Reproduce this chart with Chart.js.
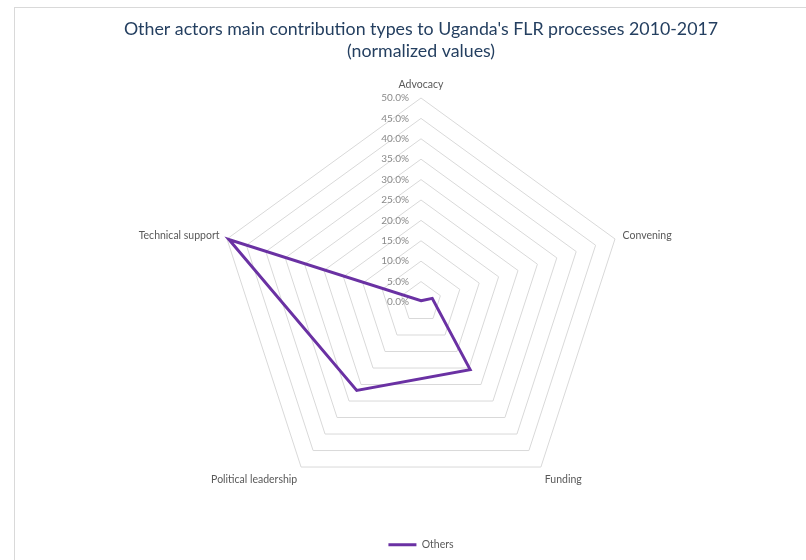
<!DOCTYPE html>
<html>
<head>
<meta charset="utf-8">
<script src="https://cdn.jsdelivr.net/npm/chart.js@4.4.1/dist/chart.umd.min.js"></script>
<style>
  html, body { margin: 0; padding: 0; background: #fff; }
  #wrap { position: relative; width: 806px; height: 560px; }
  #frame { position: absolute; left: 14px; top: 7px; right: 0; bottom: 0; border: 1px solid #d9d9d9; border-right: none; border-bottom: none; pointer-events: none; }
</style>
</head>
<body>
<div id="wrap">
  <canvas id="myChart" width="806" height="560"></canvas>
  <div id="frame"></div>
</div>
<script>
const categories = ["Advocacy", "Convening", "Funding", "Political leadership", "Technical support"];
const othersValues = [0.3, 2.9, 20.5, 26.8, 49.5];
const tickMin = 0;
const tickMax = 50;
const tickStep = 5;

const labelFont = "Lato, 'Open Sans', sans-serif";

// the plot box is kept narrow, so let the title use the full width again
const wideTitle = {
    id: "wideTitle",
    afterLayout(chart) {
        const t = chart.titleBlock;
        const c = chart.scales.r.xCenter;
        t.left = c - 400;
        t.right = c + 400;
        t.width = 800;
    }
};

// axis labels and % ticks drawn beside the spokes, the way the spreadsheet lays them out
const sideLabels = {
    id: "sideLabels",
    afterDraw(chart) {
        const scale = chart.scales.r;
        const ctx = chart.ctx;
        ctx.save();
        ctx.font = "10px " + labelFont;
        ctx.fillStyle = "#8a8a8a";
        ctx.textAlign = "right";
        ctx.textBaseline = "middle";
        scale.ticks.forEach(function(t) {
            const d = scale.getDistanceFromCenterForValue(t.value);
            ctx.fillText(t.value.toFixed(1) + "%", scale.xCenter - 12, scale.yCenter - d);
        });

        ctx.font = "10.5px " + labelFont;
        ctx.fillStyle = "#595959";
        categories.forEach(function(name, i) {
            const p = scale.getPointPosition(i, scale.drawingArea + 10);
            const dx = p.x - scale.xCenter;
            if (Math.abs(dx) < 2) {
                ctx.textAlign = "center";
                ctx.textBaseline = "bottom";
                ctx.fillText(name, p.x, p.y + 2);
            } else if (dx > 0) {
                ctx.textAlign = "left";
                ctx.textBaseline = "middle";
                ctx.fillText(name, p.x - 2, p.y + (p.y > scale.yCenter ? 4 : 0));
            } else {
                ctx.textAlign = "right";
                ctx.textBaseline = "middle";
                ctx.fillText(name, p.x + 2, p.y + (p.y > scale.yCenter ? 4 : 0));
            }
        });
        ctx.restore();
    }
};

const ctx = document.getElementById("myChart");
const myChart = new Chart(ctx, {
    type: "radar",
    data: {
        labels: categories,
        datasets: [{
            label: "Others",
            data: othersValues,
            fill: false,
            borderColor: "#6a31a3",
            backgroundColor: "#6a31a3",
            borderWidth: 3,
            pointRadius: 0,
            pointHoverRadius: 0,
            tension: 0
        }]
    },
    options: {
        responsive: false,
        animation: false,
        layout: {
            // narrow plot box keeps the web 204px in radius, centred on x=421
            padding: {left: 217, right: 181, top: 0, bottom: 0}
        },
        plugins: {
            title: {
                display: true,
                text: ["Other actors main contribution types to Uganda's FLR processes 2010-2017", "(normalized values)"],
                color: "#243f60",
                font: {family: labelFont, size: 17.8, weight: "normal"},
                padding: {top: 19, bottom: 13}
            },
            legend: {
                display: true,
                position: "bottom",
                labels: {
                    usePointStyle: true,
                    pointStyle: "line",
                    pointStyleWidth: 28,
                    color: "#595959",
                    font: {family: labelFont, size: 10.5}
                }
            },
            tooltip: {enabled: false}
        },
        scales: {
            r: {
                min: tickMin,
                max: tickMax,
                ticks: {stepSize: tickStep, display: false},
                grid: {color: "#d9d9d9", lineWidth: 1},
                angleLines: {display: false},
                pointLabels: {display: false}
            }
        }
    },
    plugins: [wideTitle, sideLabels]
});
</script>
</body>
</html>
